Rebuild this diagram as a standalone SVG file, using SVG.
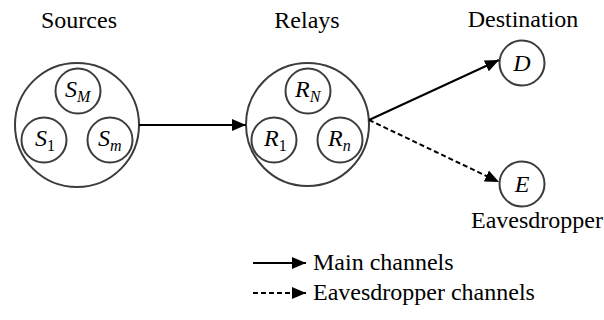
<svg xmlns="http://www.w3.org/2000/svg" width="604" height="320" viewBox="0 0 604 320">
  <style>
    .ring { fill: none; stroke: #3c3c3c; stroke-width: 2; }
    .link { stroke: #000; stroke-width: 2; fill: none; }
    .dash { stroke-dasharray: 5 3; }
  </style>
  <defs>
    <marker id="head" viewBox="0 0 14 12" refX="14" refY="6" markerWidth="14" markerHeight="12" markerUnits="userSpaceOnUse" orient="auto">
      <path d="M0,0 L14,6 L0,12 Z" fill="#000"/>
    </marker>
  </defs>

  <g id="sources">
    <text style="font-family: 'Liberation Serif', serif; font-size: 24px" x="79" y="28" text-anchor="middle">Sources</text>
    <circle class="ring" cx="77" cy="125" r="62"/>
    <circle class="ring" cx="78" cy="91" r="22.5"/>
    <text style="font-family: 'Liberation Serif', serif; font-size: 24px; font-style: italic" x="65" y="97">S<tspan style="font-size: 16px" dy="5">M</tspan></text>
    <circle class="ring" cx="44" cy="140" r="22.5"/>
    <text style="font-family: 'Liberation Serif', serif; font-size: 24px; font-style: italic" x="35" y="146">S<tspan style="font-size: 16px; font-style: normal" dy="5">1</tspan></text>
    <circle class="ring" cx="110" cy="140" r="22.5"/>
    <text style="font-family: 'Liberation Serif', serif; font-size: 24px; font-style: italic" x="98" y="146">S<tspan style="font-size: 16px" dy="5">m</tspan></text>
  </g>

  <g id="relays">
    <text style="font-family: 'Liberation Serif', serif; font-size: 24px" x="307" y="28" text-anchor="middle">Relays</text>
    <circle class="ring" cx="307.5" cy="124.5" r="61.5"/>
    <circle class="ring" cx="308" cy="91" r="22.5"/>
    <text style="font-family: 'Liberation Serif', serif; font-size: 24px; font-style: italic" x="295" y="97">R<tspan style="font-size: 16px" dy="5">N</tspan></text>
    <circle class="ring" cx="274" cy="140" r="22.5"/>
    <text style="font-family: 'Liberation Serif', serif; font-size: 24px; font-style: italic" x="264" y="146">R<tspan style="font-size: 16px; font-style: normal" dy="5">1</tspan></text>
    <circle class="ring" cx="340" cy="140" r="22.5"/>
    <text style="font-family: 'Liberation Serif', serif; font-size: 24px; font-style: italic" x="328" y="146">R<tspan style="font-size: 16px" dy="5">n</tspan></text>
  </g>

  <g id="destination">
    <text style="font-family: 'Liberation Serif', serif; font-size: 24px" x="523" y="27" text-anchor="middle">Destination</text>
    <circle class="ring" cx="522" cy="63" r="22.5"/>
    <text style="font-family: 'Liberation Serif', serif; font-size: 24px; font-style: italic" x="522" y="71" text-anchor="middle">D</text>
  </g>

  <g id="eavesdropper">
    <circle class="ring" cx="522" cy="184" r="22.5"/>
    <text style="font-family: 'Liberation Serif', serif; font-size: 24px; font-style: italic" x="522" y="192" text-anchor="middle">E</text>
    <text style="font-family: 'Liberation Serif', serif; font-size: 24px" x="603" y="228" text-anchor="end">Eavesdropper</text>
  </g>

  <g id="connectors">
    <line class="link" x1="139" y1="125" x2="246" y2="125" marker-end="url(#head)"/>
    <line class="link" x1="369" y1="120" x2="499" y2="60" marker-end="url(#head)"/>
    <line class="link dash" x1="369" y1="120" x2="499" y2="182" marker-end="url(#head)"/>
  </g>

  <g id="legend">
    <line class="link" x1="253" y1="263" x2="306" y2="263" marker-end="url(#head)"/>
    <text style="font-family: 'Liberation Serif', serif; font-size: 24px" x="313" y="270">Main channels</text>
    <line class="link dash" x1="253" y1="293" x2="306" y2="293" marker-end="url(#head)"/>
    <text style="font-family: 'Liberation Serif', serif; font-size: 24px" x="313" y="300">Eavesdropper channels</text>
  </g>
</svg>
